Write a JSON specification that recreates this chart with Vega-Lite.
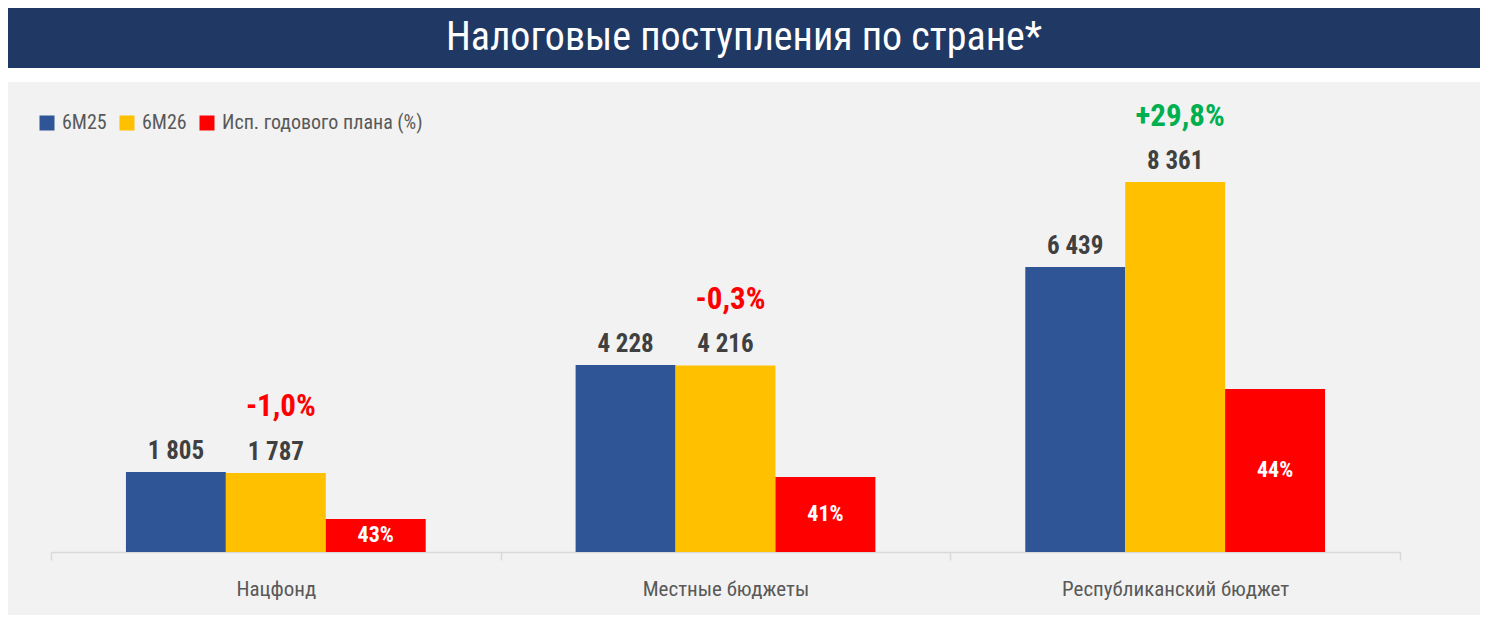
{
  "$schema": "https://vega.github.io/schema/vega-lite/v6.json",
  "padding": {"left": 8, "top": 8, "right": 0, "bottom": 0},
  "background": "white",
  "spacing": 14,
  "config": {
    "font": "Roboto Condensed, Liberation Sans Narrow, DejaVu Sans Condensed, Roboto",
    "locale": {"number": {"decimal": ",", "thousands": " ", "grouping": [3], "currency": ["", ""], "minus": "-"}},
    "view": {"stroke": null}
  },
  "datasets": {
    "bars": [
      {"group": "Нацфонд", "series": "6M25", "value": 1805},
      {"group": "Нацфонд", "series": "6M26", "value": 1787},
      {"group": "Нацфонд", "series": "Исп. годового плана (%)", "value": 746, "pct": 0.43},
      {"group": "Местные бюджеты", "series": "6M25", "value": 4228},
      {"group": "Местные бюджеты", "series": "6M26", "value": 4216},
      {"group": "Местные бюджеты", "series": "Исп. годового плана (%)", "value": 1695, "pct": 0.41},
      {"group": "Республиканский бюджет", "series": "6M25", "value": 6439},
      {"group": "Республиканский бюджет", "series": "6M26", "value": 8361},
      {"group": "Республиканский бюджет", "series": "Исп. годового плана (%)", "value": 3684, "pct": 0.44}
    ],
    "changes": [
      {"group": "Нацфонд", "change": -0.010, "top": 1805},
      {"group": "Местные бюджеты", "change": -0.003, "top": 4228},
      {"group": "Республиканский бюджет", "change": 0.298, "top": 8361}
    ]
  },
  "resolve": {"scale": {"color": "independent", "x": "independent", "y": "independent"}, "legend": {"color": "independent"}},
  "vconcat": [
    {
      "width": 1472,
      "height": 60,
      "view": {"fill": "#203864", "stroke": null},
      "data": {"values": [{"t": "Налоговые поступления по стране*", "px": 0.5, "py": 0.5}]},
      "mark": {
        "type": "text",
        "align": "center",
        "baseline": "middle",
        "fontSize": 40,
        "color": "white"
      },
      "encoding": {
        "x": {"field": "px", "type": "quantitative", "scale": {"domain": [0, 1]}, "axis": null},
        "y": {"field": "py", "type": "quantitative", "scale": {"domain": [0, 1]}, "axis": null},
        "text": {"field": "t"}
      }
    },
    {
      "width": 1472,
      "height": 533,
      "view": {"fill": "#f2f2f2", "stroke": null},
      "data": {"name": "bars"},
      "encoding": {
        "x": {
          "field": "group",
          "type": "nominal",
          "sort": ["Нацфонд", "Местные бюджеты", "Республиканский бюджет"],
          "scale": {"paddingInner": 0, "paddingOuter": 0, "range": [43, 1392]},
          "axis": {
            "title": null,
            "labelAngle": 0,
            "offset": -63,
            "tickBand": "extent",
            "domainColor": "#d9d9d9",
            "domainWidth": 1.5,
            "tickColor": "#d9d9d9",
            "tickWidth": 1.5,
            "tickSize": 8,
            "labelFontSize": 21,
            "labelColor": "#595959",
            "labelPadding": 18,
            "labelLimit": 0
          }
        }
      },
      "layer": [
        {
          "mark": {"type": "bar"},
          "encoding": {
            "y": {
              "field": "value",
              "type": "quantitative",
              "scale": {"domain": [-1424, 10621], "nice": false, "zero": false},
              "axis": null
            },
            "xOffset": {
              "field": "series",
              "sort": ["6M25", "6M26", "Исп. годового плана (%)"],
              "scale": {"paddingInner": 0, "paddingOuter": 0.75}
            },
            "color": {
              "field": "series",
              "type": "nominal",
              "scale": {
                "domain": ["6M25", "6M26", "Исп. годового плана (%)"],
                "range": ["#2f5597", "#ffc000", "#ff0000"]
              },
              "legend": {
                "title": null,
                "orient": "none",
                "direction": "horizontal",
                "legendX": 29,
                "legendY": 31,
                "symbolType": "square",
                "symbolSize": 225,
                "symbolStrokeWidth": 0,
                "labelFontSize": 20,
                "labelColor": "#595959",
                "labelOffset": 5,
                "labelLimit": 0,
                "columnPadding": 10
              }
            }
          }
        },
        {
          "transform": [{"filter": "datum.pct == null"}],
          "mark": {"type": "text", "dy": -21, "fontSize": 25, "fontWeight": "bold", "color": "#404040"},
          "encoding": {
            "y": {"field": "value", "type": "quantitative"},
            "xOffset": {"field": "series", "sort": ["6M25", "6M26", "Исп. годового плана (%)"]},
            "text": {"field": "value", "type": "quantitative", "format": ",d"}
          }
        },
        {
          "transform": [
            {"filter": "datum.pct != null"},
            {"calculate": "datum.value / 2", "as": "mid"}
          ],
          "mark": {"type": "text", "fontSize": 22, "fontWeight": "bold", "color": "white"},
          "encoding": {
            "y": {"field": "mid", "type": "quantitative"},
            "xOffset": {"field": "series", "sort": ["6M25", "6M26", "Исп. годового плана (%)"]},
            "text": {"field": "pct", "type": "quantitative", "format": ".0%"}
          }
        },
        {
          "data": {"name": "changes"},
          "mark": {"type": "text", "dy": -65, "dx": 5, "fontSize": 31, "fontWeight": "bold"},
          "encoding": {
            "y": {"field": "top", "type": "quantitative"},
            "text": {"field": "change", "type": "quantitative", "format": "+.1%"},
            "color": {
              "condition": {"test": "datum.change < 0", "value": "#ff0000"},
              "value": "#00b050"
            }
          }
        }
      ]
    }
  ]
}
